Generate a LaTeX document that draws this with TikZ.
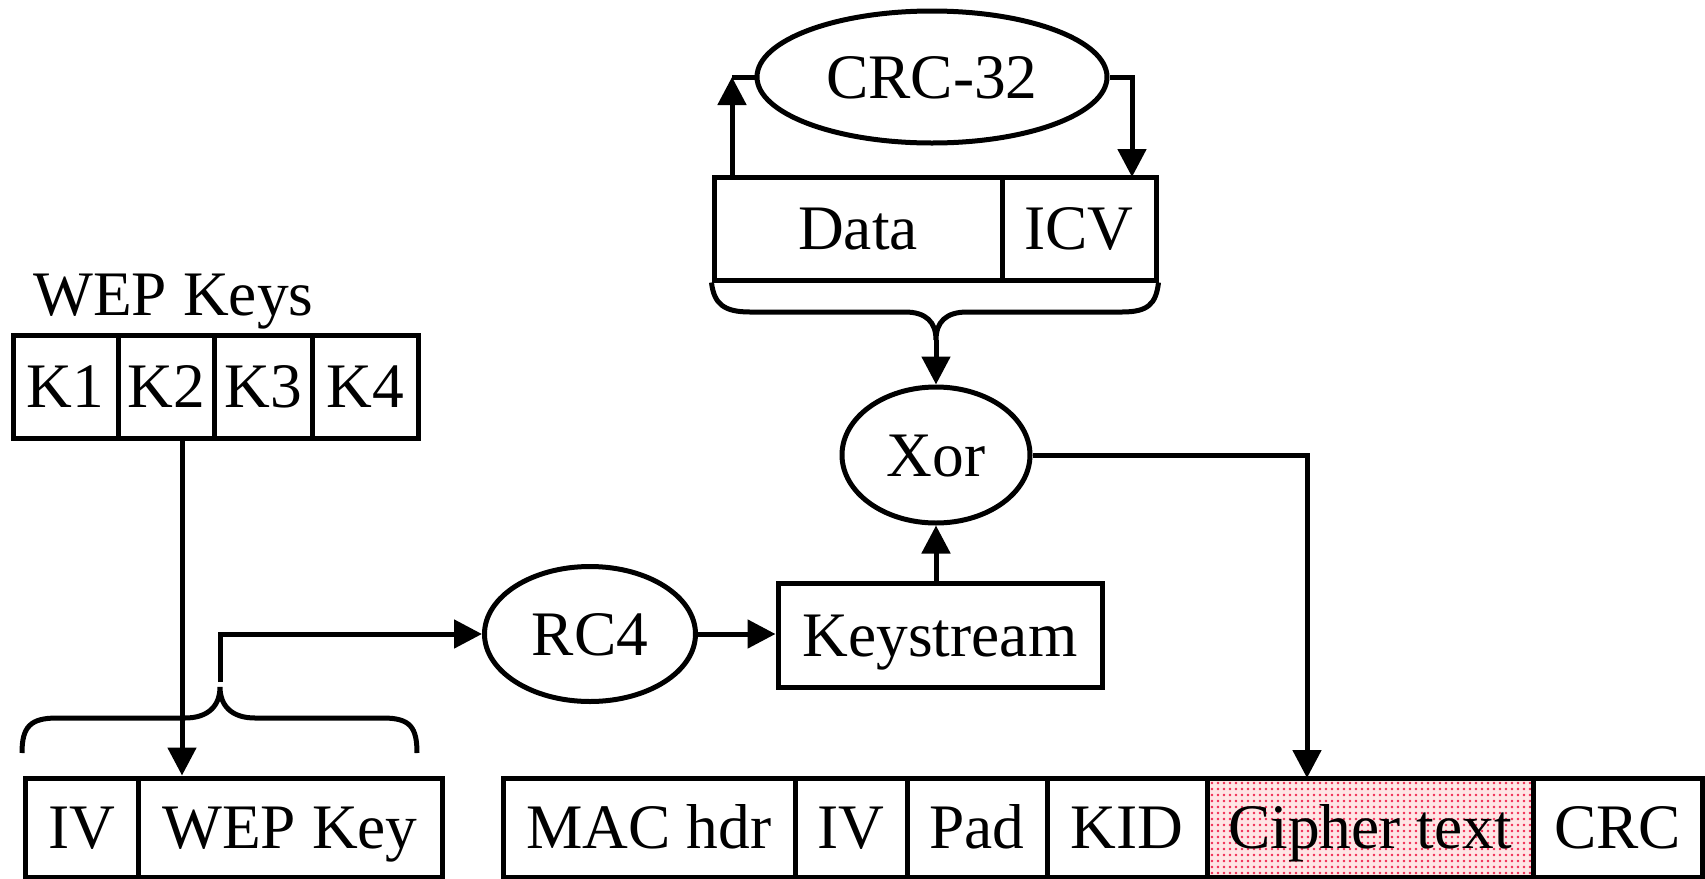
\documentclass[tikz,border=0pt]{standalone}
\usepackage{fontspec}
\setmainfont{Liberation Serif}
\usetikzlibrary{arrows.meta,shapes.geometric,patterns}
\pgfdeclarepatternformonly{pinkdots}{\pgfqpoint{-1.5pt}{-1.5pt}}{\pgfqpoint{1.5pt}{1.5pt}}{\pgfqpoint{3pt}{3pt}}%
  {\pgfpathcircle{\pgfqpoint{0pt}{0pt}}{0.65pt}\pgfusepath{fill}}
\begin{document}
\begin{tikzpicture}[x=0.5pt,y=-0.5pt,
  lw/.style={line width=2.5pt},
  txt/.style={font=\fontsize{31.7}{38}\selectfont, text height=21pt, text depth=0pt},
  cell/.style 2 args={draw, lw, rectangle, inner sep=0pt, txt,
     minimum width=#1*0.5pt, minimum height=#2*0.5pt},
  oval/.style 2 args={draw, lw, ellipse, inner sep=0pt, txt,
     minimum width=#1*0.5pt, minimum height=#2*0.5pt},
  arr/.style={lw, -{Triangle[length=14pt,width=14pt]}},
  brace/.style={lw, line cap=butt}]
\useasboundingbox (0,0) rectangle (1705,879);

% WEP keys
\node[anchor=base west, inner sep=0pt, font=\fontsize{31.7}{38}\selectfont] (wepkeys) at (33,315) {WEP Keys};
\node[cell={105}{103}] (K1) at (65.5,386.5) {K1};
\node[cell={96}{103}]  (K2) at (166,386.5) {K2};
\node[cell={98}{103}]  (K3) at (263,386.5) {K3};
\node[cell={106}{103}] (K4) at (365,386.5) {K4};

% IV + WEP Key
\node[cell={113}{99}] (IVa) at (81.5,827.5) {IV};
\node[cell={304}{99}] (WEPKey) at (290,827.5) {WEP Key};

% top: CRC-32, Data, ICV
\node[oval={350}{132}] (CRC) at (932,77) {CRC-32};
\node[cell={288}{103}] (Data) at (858,228.5) {Data};
\node[cell={154}{103}] (ICV) at (1079,228.5) {ICV};

% middle
\node[oval={188}{136}] (Xor) at (936,455) {Xor};
\node[oval={211}{135}] (RC4) at (590,634) {RC4};
\node[cell={324}{104}] (Keystream) at (940,635) {Keystream};

% frame
\node[cell={292}{99}] (MAC) at (649,827.5) {MAC hdr};
\node[cell={112}{99}] (IVb) at (851,827.5) {IV};
\node[cell={140}{99}] (Pad) at (977,827.5) {Pad};
\node[cell={160}{99}] (KID) at (1127,827.5) {KID};
\node[cell={326}{99}, preaction={fill=red!10}, pattern=pinkdots, pattern color={rgb,255:red,240;green,40;blue,80}] (Cipher) at (1370,827.5) {};
\node[txt, inner sep=0pt] (ciphertxt) at (Cipher.center) {Cipher text};
\node[cell={169}{99}] (CRCf) at (1617.5,827.5) {CRC};

% coordinates
\coordinate (k2out) at (182,438);
\coordinate (lbtip) at (220,687);
\coordinate (lbstart) at (220,682);
\coordinate (dbtip) at (936,340);
\coordinate (dup) at (732,177);
\coordinate (idn) at (1132,177);
\coordinate (cin) at (1307,778);

% connectors
\draw[arr] (k2out) -- (k2out |- WEPKey.north);
\draw[brace] (22,753) .. controls (22,727) and (30,718) .. (57,718) -- (185,718)
   .. controls (208,718) and (220,706) .. (lbtip)
   .. controls (220,706) and (232,718) .. (255,718) -- (383,718)
   .. controls (410,718) and (417,727) .. (417,753);
\draw[arr, line cap=butt] (lbstart) |- (RC4.west);
\draw[arr] (RC4.east) -- (RC4.east -| Keystream.west);
\draw[arr] (Xor.south |- Keystream.north) -- (Xor.south);
\draw[arr] (Xor.east) -| (cin);

\draw[brace] (Data.south west) .. controls (714,304) and (724,312) .. (750,312) -- (905,312)
   .. controls (926,312) and (936,322) .. (dbtip)
   .. controls (936,322) and (946,312) .. (967,312) -- (1122,312)
   .. controls (1148,312) and (1156,304) .. (ICV.south east);
\draw[arr] (dbtip) -- (Xor.north);

\draw[arr] (dup) -- (dup |- CRC.west);
\draw[lw] (CRC.west) -- (dup |- CRC.west);
\draw[arr] (CRC.east) -| (idn);
\end{tikzpicture}
\end{document}
